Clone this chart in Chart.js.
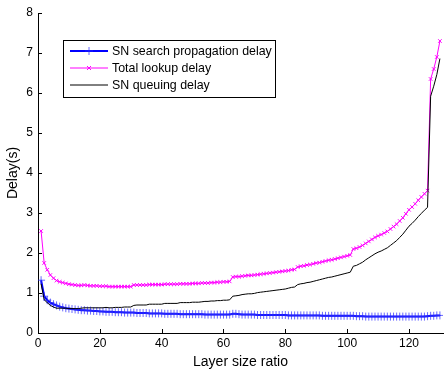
<!DOCTYPE html>
<html>
<head>
<meta charset="utf-8">
<script src="https://cdn.jsdelivr.net/npm/chart.js@4.4.1/dist/chart.umd.min.js"></script>
<style>
  html, body { margin: 0; padding: 0; background: #fff; }
  #wrap { width: 448px; height: 371px; }
</style>
</head>
<body>
<div id="wrap"><canvas id="c" width="448" height="371"></canvas></div>
<script>
// layer size ratio 1..130
const ratios = Array.from({ length: 130 }, (_, i) => i + 1);

const propagationDelay = [
    1.32, 0.92, 0.82, 0.76, 0.72, 0.69, 0.66, 0.64, 0.62, 0.61,
    0.60, 0.59, 0.58, 0.57, 0.57, 0.56, 0.56, 0.55, 0.55, 0.54,
    0.54, 0.53, 0.53, 0.53, 0.52, 0.52, 0.52, 0.51, 0.51, 0.51,
    0.51, 0.50, 0.50, 0.50, 0.50, 0.49, 0.49, 0.49, 0.49, 0.49,
    0.48, 0.48, 0.48, 0.48, 0.48, 0.47, 0.47, 0.47, 0.47, 0.47,
    0.47, 0.47, 0.47, 0.46, 0.46, 0.46, 0.46, 0.46, 0.46, 0.46,
    0.46, 0.46, 0.48, 0.48, 0.47, 0.46, 0.46, 0.46, 0.46, 0.46,
    0.45, 0.45, 0.45, 0.45, 0.45, 0.45, 0.45, 0.45, 0.45, 0.45,
    0.44, 0.44, 0.44, 0.44, 0.44, 0.44, 0.44, 0.44, 0.44, 0.44,
    0.44, 0.43, 0.43, 0.43, 0.43, 0.43, 0.43, 0.43, 0.43, 0.43,
    0.43, 0.43, 0.42, 0.42, 0.42, 0.41, 0.41, 0.41, 0.41, 0.41,
    0.41, 0.41, 0.41, 0.41, 0.41, 0.41, 0.41, 0.41, 0.41, 0.41,
    0.41, 0.41, 0.41, 0.41, 0.41, 0.42, 0.43, 0.43, 0.44, 0.44
];

const totalDelay = [
    2.55, 1.75, 1.58, 1.45, 1.37, 1.31, 1.28, 1.26, 1.24, 1.22,
    1.21, 1.20, 1.19, 1.19, 1.20, 1.19, 1.18, 1.18, 1.18, 1.17,
    1.17, 1.17, 1.16, 1.16, 1.16, 1.16, 1.16, 1.16, 1.16, 1.16,
    1.20, 1.20, 1.20, 1.20, 1.20, 1.21, 1.21, 1.21, 1.21, 1.21,
    1.22, 1.22, 1.22, 1.22, 1.22, 1.23, 1.23, 1.23, 1.23, 1.24,
    1.24, 1.24, 1.25, 1.25, 1.25, 1.26, 1.26, 1.27, 1.27, 1.28,
    1.28, 1.29, 1.40, 1.41, 1.41, 1.42, 1.43, 1.44, 1.44, 1.45,
    1.46, 1.47, 1.48, 1.49, 1.50, 1.51, 1.52, 1.53, 1.54, 1.55,
    1.56, 1.58, 1.59, 1.65, 1.67, 1.68, 1.70, 1.71, 1.73, 1.75,
    1.76, 1.78, 1.80, 1.82, 1.83, 1.85, 1.87, 1.89, 1.91, 1.93,
    1.95, 2.10, 2.12, 2.15, 2.19, 2.24, 2.29, 2.34, 2.39, 2.43,
    2.46, 2.50, 2.54, 2.60, 2.66, 2.72, 2.80, 2.88, 2.98, 3.08,
    3.15, 3.23, 3.32, 3.40, 3.48, 3.56, 6.35, 6.60, 6.90, 7.30
];

const queuingDelay = [
    1.23, 0.83, 0.76, 0.69, 0.65, 0.62, 0.62, 0.62, 0.62, 0.61,
    0.61, 0.61, 0.61, 0.62, 0.63, 0.63, 0.63, 0.63, 0.63, 0.63,
    0.63, 0.64, 0.63, 0.63, 0.64, 0.64, 0.64, 0.65, 0.65, 0.65,
    0.69, 0.70, 0.70, 0.70, 0.70, 0.72, 0.72, 0.72, 0.72, 0.72,
    0.74, 0.74, 0.74, 0.74, 0.74, 0.76, 0.76, 0.76, 0.76, 0.77,
    0.77, 0.77, 0.78, 0.79, 0.79, 0.80, 0.80, 0.81, 0.81, 0.82,
    0.82, 0.83, 0.92, 0.93, 0.94, 0.96, 0.97, 0.98, 0.98, 0.99,
    1.01, 1.02, 1.03, 1.04, 1.05, 1.06, 1.07, 1.08, 1.09, 1.10,
    1.12, 1.14, 1.15, 1.21, 1.23, 1.24, 1.26, 1.27, 1.29, 1.31,
    1.33, 1.35, 1.37, 1.39, 1.40, 1.42, 1.44, 1.46, 1.48, 1.50,
    1.52, 1.67, 1.69, 1.73, 1.77, 1.83, 1.88, 1.93, 1.98, 2.02,
    2.05, 2.09, 2.13, 2.19, 2.25, 2.31, 2.39, 2.47, 2.57, 2.67,
    2.74, 2.82, 2.91, 2.99, 3.07, 3.14, 5.92, 6.17, 6.46, 6.86
];

const seriesNames = ["SN search propagation delay", "Total lookup delay", "SN queuing delay"];
const xTickValues = [0, 20, 40, 60, 80, 100, 120];
const FONT = "'Liberation Sans', Arial, sans-serif";

// MATLAB style ticks pointing into the plot
const innerTicks = {
    id: "innerTicks",
    afterDraw(chart) {
        const { ctx, chartArea, scales } = chart;
        ctx.save();
        ctx.strokeStyle = "#000";
        ctx.lineWidth = 1;
        ctx.beginPath();
        scales.y.ticks.forEach(t => {
            const y = Math.round(scales.y.getPixelForValue(t.value)) + 0.5;
            ctx.moveTo(chartArea.left, y);
            ctx.lineTo(chartArea.left + 4, y);
        });
        scales.x.ticks.forEach(t => {
            const x = Math.round(scales.x.getPixelForValue(t.value)) + 0.5;
            ctx.moveTo(x, chartArea.bottom);
            ctx.lineTo(x, chartArea.bottom - 4);
        });
        ctx.stroke();
        ctx.restore();
    }
};

// legend box inside the plot, top left
const boxLegend = {
    id: "boxLegend",
    afterDraw(chart) {
        const ctx = chart.ctx;
        const x0 = 63.5, y0 = 40.5, w = 212, h = 57;
        ctx.save();
        ctx.fillStyle = "#fff";
        ctx.fillRect(x0, y0, w, h);
        ctx.strokeStyle = "#000";
        ctx.lineWidth = 1;
        ctx.strokeRect(x0, y0, w, h);
        ctx.font = "12.4px " + FONT;
        ctx.textBaseline = "middle";
        chart.data.datasets.forEach((ds, i) => {
            const y = 51 + i * 17;
            ctx.strokeStyle = ds.borderColor;
            ctx.lineWidth = ds.borderWidth;
            ctx.beginPath();
            ctx.moveTo(70, y);
            ctx.lineTo(108, y);
            ctx.stroke();
            if (ds.pointRadius > 0) {
                const r = ds.pointRadius;
                ctx.strokeStyle = ds.pointBorderColor;
                ctx.lineWidth = 1;
                ctx.beginPath();
                if (ds.pointStyle === "cross") {
                    ctx.moveTo(89 - r, y); ctx.lineTo(89 + r, y);
                    ctx.moveTo(89, y - r); ctx.lineTo(89, y + r);
                } else {
                    const d = r * 0.8;
                    ctx.moveTo(89 - d, y - d); ctx.lineTo(89 + d, y + d);
                    ctx.moveTo(89 - d, y + d); ctx.lineTo(89 + d, y - d);
                }
                ctx.stroke();
            }
            ctx.fillStyle = "#000";
            ctx.fillText(ds.label, 112, y + 0.5);
        });
        ctx.restore();
    }
};

new Chart(document.getElementById("c").getContext("2d"), {
    type: "line",
    data: {
        labels: ratios,
        datasets: [
            {
                label: seriesNames[0],
                data: propagationDelay,
                borderColor: "#0000ff",
                borderWidth: 2,
                pointStyle: "cross",
                pointRadius: 4,
                pointBorderColor: "rgba(40,40,255,0.7)",
                pointBorderWidth: 1,
                tension: 0,
                order: 3
            },
            {
                label: seriesNames[1],
                data: totalDelay,
                borderColor: "#ff00ff",
                borderWidth: 1,
                pointStyle: "crossRot",
                pointRadius: 2.5,
                pointBorderColor: "#ff00ff",
                pointBorderWidth: 1,
                tension: 0,
                order: 2
            },
            {
                label: seriesNames[2],
                data: queuingDelay,
                borderColor: "#000000",
                borderWidth: 1,
                pointRadius: 0,
                tension: 0,
                order: 1
            }
        ]
    },
    options: {
        responsive: false,
        animation: false,
        events: [],
        layout: { padding: { top: 13, right: 0, left: 0, bottom: 0 } },
        plugins: {
            legend: { display: false },
            tooltip: { enabled: false }
        },
        scales: {
            x: {
                type: "linear",
                min: 0,
                max: 131,
                afterBuildTicks(scale) {
                    scale.ticks = xTickValues.map(v => ({ value: v }));
                },
                ticks: {
                    color: "#000",
                    padding: 3,
                    maxRotation: 0,
                    font: { family: FONT, size: 12 }
                },
                grid: { display: true, drawOnChartArea: false, drawTicks: false },
                border: { color: "#000", width: 1 },
                title: {
                    display: true,
                    text: "Layer size ratio",
                    color: "#000",
                    padding: 0,
                    font: { family: FONT, size: 14 }
                },
                afterFit(scale) { scale.height = 38; }
            },
            y: {
                min: 0,
                max: 8,
                ticks: {
                    stepSize: 1,
                    color: "#000",
                    padding: 5,
                    font: { family: FONT, size: 12 }
                },
                grid: { display: true, drawOnChartArea: false, drawTicks: false },
                border: { color: "#000", width: 1 },
                title: {
                    display: true,
                    text: "Delay(s)",
                    color: "#000",
                    padding: { top: 5, bottom: 0 },
                    font: { family: FONT, size: 14 }
                },
                afterFit(scale) { scale.width = 38; }
            }
        }
    },
    plugins: [innerTicks, boxLegend]
});
</script>
</body>
</html>
